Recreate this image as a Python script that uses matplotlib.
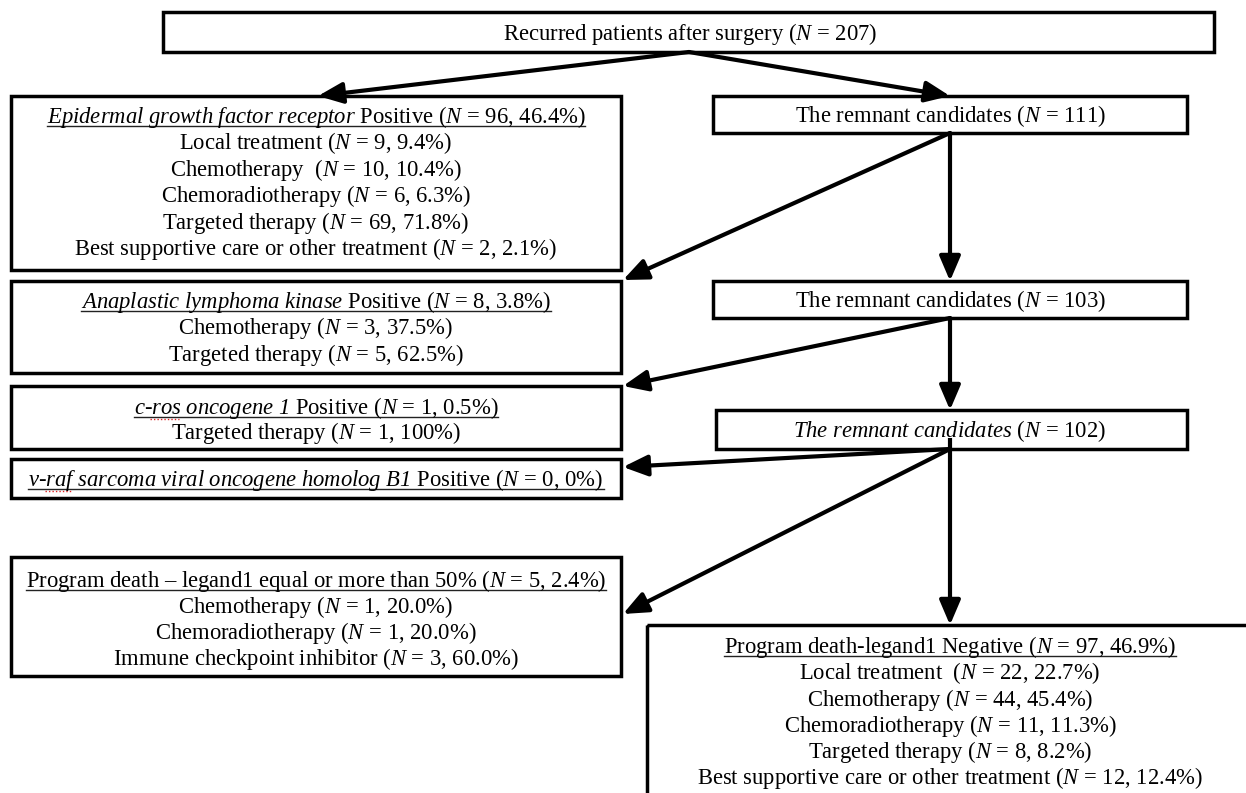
import matplotlib
matplotlib.use("Agg")
import matplotlib.pyplot as plt
from matplotlib.patches import Rectangle

plt.rcParams['font.family'] = ['Liberation Serif', 'DejaVu Serif']
plt.rcParams['mathtext.fontset'] = 'custom'
plt.rcParams['mathtext.rm'] = 'Liberation Serif'
plt.rcParams['mathtext.it'] = 'Liberation Serif:italic'
plt.rcParams['mathtext.sf'] = 'Liberation Serif:italic'

# ---------------- data ----------------
total_label = "Recurred patients after surgery"
total_n = 207
remnant_label = "The remnant candidates"
remnant_n = [111, 103, 102]

egfr_name = "Epidermal growth factor receptor"
egfr_n, egfr_pct = 96, "46.4"
egfr_treat = ["Local treatment", "Chemotherapy ", "Chemoradiotherapy", "Targeted therapy",
              "Best supportive care or other treatment"]
egfr_treat_n = [9, 10, 6, 69, 2]
egfr_treat_pct = ["9.4", "10.4", "6.3", "71.8", "2.1"]

alk_name = "Anaplastic lymphoma kinase"
alk_n, alk_pct = 8, "3.8"
alk_treat = ["Chemotherapy", "Targeted therapy"]
alk_treat_n = [3, 5]
alk_treat_pct = ["37.5", "62.5"]

ros_name = "c-ros oncogene 1"
ros_n, ros_pct = 1, "0.5"
ros_treat = ["Targeted therapy"]
ros_treat_n = [1]
ros_treat_pct = ["100"]

braf_name = "v-raf sarcoma viral oncogene homolog B1"
braf_n, braf_pct = 0, "0"

pd50_name = "Program death \u2013 legand1 equal or more than 50%"
pd50_n, pd50_pct = 5, "2.4"
pd50_treat = ["Chemotherapy", "Chemoradiotherapy", "Immune checkpoint inhibitor"]
pd50_treat_n = [1, 1, 3]
pd50_treat_pct = ["20.0", "20.0", "60.0"]

neg_name = "Program death-legand1 Negative"
neg_n, neg_pct = 97, "46.9"
neg_treat = ["Local treatment ", "Chemotherapy", "Chemoradiotherapy", "Targeted therapy",
             "Best supportive care or other treatment"]
neg_treat_n = [22, 44, 11, 8, 12]
neg_treat_pct = ["22.7", "45.4", "11.3", "8.2", "12.4"]

# ---------------- figure ----------------
W, H = 1246, 793
fig = plt.figure(figsize=(W / 100, H / 100), dpi=100)
ax = fig.add_axes([0, 0, 1, 1])
ax.set_xlim(0, W)
ax.set_ylim(H, 0)
ax.axis('off')

FS = 16.3
LW_BOX = 2.5
LW_ARR = 3.0
renderer = fig.canvas.get_renderer()


def ital(s):
    # italic text (hyphens kept as plain hyphens)
    parts = s.split("-")
    return "-".join(r"$\mathsf{" + p.replace(" ", r"\ ") + "}$" for p in parts)


def nstr(n, pct=None):
    if pct is None:
        return r"($\mathsf{N}$ = " + f"{n})"
    return r"($\mathsf{N}$ = " + f"{n}, {pct}%)"


def text_width(s, style='normal'):
    t = ax.text(0, 0, s, fontsize=FS, fontstyle=style)
    w = t.get_window_extent(renderer).width
    t.remove()
    return w


def line(xc, yc, s, underline=False, squiggle=None):
    base = yc + 0.33 * FS * 100 / 72
    t = ax.text(xc, base, s, fontsize=FS, ha='center', va='baseline', color='black')
    if underline or squiggle:
        bb = t.get_window_extent(renderer)
        x0, x1 = bb.x0, bb.x1   # pixels == data units horizontally
        if underline:
            ax.plot([x0, x1], [base + 2.5, base + 2.5], color='#222222', lw=1.0)
        if squiggle:
            pre, word = squiggle
            a = x0 + text_width(pre, 'italic') - 1
            b = x0 + text_width(pre + word, 'italic')
            ax.plot([a, b], [base + 4.5, base + 4.5], color='#dd2222', lw=1.0,
                    linestyle=(0, (1, 1.5)))
    return t


def box(x0, y0, x1, y1):
    ax.add_patch(Rectangle((x0, y0), x1 - x0, y1 - y0, fill=False, ec='black', lw=LW_BOX))


def arrow(p0, p1):
    ax.annotate("", xy=p1, xytext=p0,
                arrowprops=dict(arrowstyle='-|>,head_length=0.75,head_width=0.32', lw=LW_ARR,
                                color='black', shrinkA=0, shrinkB=0, mutation_scale=20))


LX = 316   # centre of left column
RX = 950   # centre of right column

# top
box(163, 12, 1214, 52)
line(690, 33, total_label + " " + nstr(total_n))

# EGFR
box(11, 96, 621, 270)
line(LX, 116, ital(egfr_name) + " Positive " + nstr(egfr_n, egfr_pct), underline=True)
for i, (tr, n, p) in enumerate(zip(egfr_treat, egfr_treat_n, egfr_treat_pct)):
    line(LX, 142 + i * 26.5, tr + " " + nstr(n, p))

# remnant 111
box(713, 96, 1187, 133)
line(RX, 115, remnant_label + " " + nstr(remnant_n[0]))

# ALK
box(11, 281, 621, 373)
line(LX, 301, ital(alk_name) + " Positive " + nstr(alk_n, alk_pct), underline=True)
for i, (tr, n, p) in enumerate(zip(alk_treat, alk_treat_n, alk_treat_pct)):
    line(LX, 327 + i * 26.5, tr + " " + nstr(n, p))

# remnant 103
box(713, 281, 1187, 318)
line(RX, 300, remnant_label + " " + nstr(remnant_n[1]))

# ROS1
box(11, 386, 621, 449)
line(LX, 407, ital(ros_name) + " Positive " + nstr(ros_n, ros_pct), underline=True,
     squiggle=("c-", "ros"))
for i, (tr, n, p) in enumerate(zip(ros_treat, ros_treat_n, ros_treat_pct)):
    line(LX, 432 + i * 26.5, tr + " " + nstr(n, p))

# remnant 102
box(716, 410, 1187, 449)
line(RX, 430, ital(remnant_label) + " " + nstr(remnant_n[2]))

# BRAF
box(11, 459, 621, 498)
line(LX, 479, ital(braf_name) + " Positive " + nstr(braf_n, braf_pct), underline=True,
     squiggle=("v-", "raf"))

# PD-L1 >= 50%
box(11, 557, 621, 676)
line(LX, 580, pd50_name + " " + nstr(pd50_n, pd50_pct), underline=True)
for i, (tr, n, p) in enumerate(zip(pd50_treat, pd50_treat_n, pd50_treat_pct)):
    line(LX, 606 + i * 25.7, tr + " " + nstr(n, p))

# PD-L1 negative
box(647, 625, 1262, 805)
line(RX, 646, neg_name + " " + nstr(neg_n, neg_pct), underline=True)
for i, (tr, n, p) in enumerate(zip(neg_treat, neg_treat_n, neg_treat_pct)):
    line(RX, 672 + i * 26.2, tr + " " + nstr(n, p))

# arrows
arrow((689, 52), (318, 96))
arrow((689, 52), (950, 96))
arrow((950, 133), (623, 280))
arrow((950, 133), (950, 281))
arrow((950, 318), (623, 386))
arrow((950, 318), (950, 410))
ax.plot([950, 950], [438, 449], color='black', lw=LW_ARR, solid_capstyle='butt')
arrow((950, 449), (623, 467))
arrow((950, 449), (623, 614))
arrow((950, 449), (950, 625))

fig.savefig("out.png", dpi=100, facecolor='white')
